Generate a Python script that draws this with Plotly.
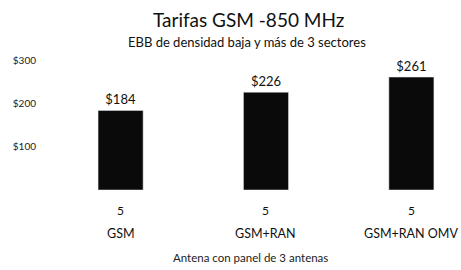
import plotly.graph_objects as go

categories = ["GSM", "GSM+RAN", "GSM+RAN OMV"]
tarifas = [184, 226, 261]
bar_labels = ["$184", "$226", "$261"]
row_values = ["5", "5", "5"]
y_ticks = [100, 200, 300]
y_tick_labels = ["$100", "$200", "$300"]

x = list(range(len(categories)))
FONT = "Lato"
TOP, BOTTOM = 55, 190
H = BOTTOM - TOP
L, R = 45, 455


def py(px):
    return 1 - (px - TOP) / H


def pxx(px):
    return (px - L) / (R - L)


fig = go.Figure()
fig.add_trace(go.Bar(
    x=x, y=tarifas, width=0.31,
    marker=dict(color="#0a0a0a"),
    text=bar_labels, textposition="outside",
    textfont=dict(size=13, color="#111", family=FONT),
    cliponaxis=False,
))

for xi, v, c in zip(x, row_values, categories):
    fig.add_annotation(x=xi, y=py(210), xref="x", yref="paper", text=v, yanchor="middle",
                       showarrow=False, font=dict(size=12, color="#111", family=FONT))
    fig.add_annotation(x=xi, y=py(233), xref="x", yref="paper", text=c, yanchor="middle",
                       showarrow=False, font=dict(size=12.5, color="#111", family=FONT))

fig.add_annotation(x=0.5, y=py(257), xref="paper", yref="paper", yanchor="middle",
                   text="Antena con panel de 3 antenas", showarrow=False,
                   font=dict(size=11.5, color="#222", family=FONT))

fig.add_annotation(x=pxx(248), y=py(20), xref="paper", yref="paper", yanchor="middle",
                   text="Tarifas GSM -850 MHz", showarrow=False,
                   font=dict(size=19, color="#111", family=FONT))
fig.add_annotation(x=pxx(247), y=py(42), xref="paper", yref="paper", yanchor="middle",
                   text="EBB de densidad baja y más de 3 sectores", showarrow=False,
                   font=dict(size=13, color="#111", family=FONT))

fig.update_layout(
    width=461, height=270,
    margin=dict(l=L, r=461 - R, t=TOP, b=270 - BOTTOM),
    paper_bgcolor="white", plot_bgcolor="white",
    xaxis=dict(range=[-0.52, 2.3], showticklabels=False, showgrid=False,
               zeroline=False, showline=False, automargin=False),
    yaxis=dict(range=[0, 312], tickvals=y_ticks, ticktext=y_tick_labels,
               showgrid=False, zeroline=False, showline=False, automargin=False,
               ticklabelstandoff=8,
               tickfont=dict(size=10, color="#222", family=FONT)),
    showlegend=False,
)

fig.write_html("out.html", config={"displayModeBar": False},
               post_script="document.body.style.margin='0';")
